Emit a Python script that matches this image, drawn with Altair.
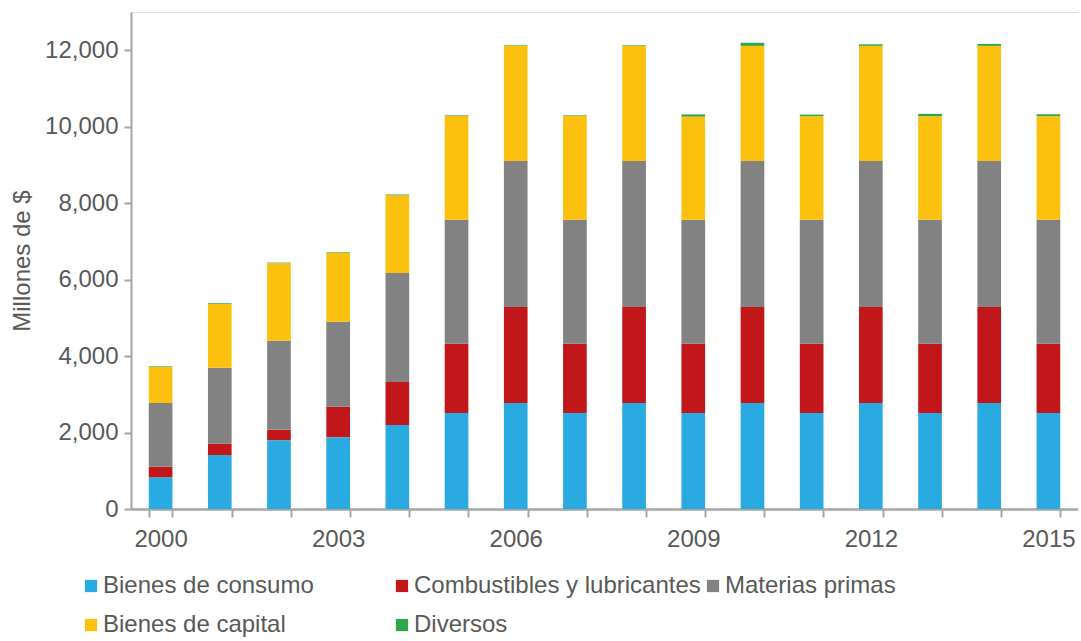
import altair as alt
import pandas as pd

years = [str(y) for y in range(2000, 2016)]
series = ["Bienes de consumo", "Combustibles y lubricantes", "Materias primas",
          "Bienes de capital", "Diversos"]
colors = ["#29ABE2", "#C1171B", "#828282", "#FCC00F", "#2DA74A"]

consumo = [830, 1410, 1800, 1880, 2195, 2510, 2770, 2510, 2770, 2510, 2770, 2510, 2770, 2510, 2770, 2510]
combustibles = [275, 295, 270, 795, 1130, 1810, 2515, 1810, 2515, 1810, 2515, 1810, 2515, 1810, 2515, 1810]
materias = [1665, 1990, 2330, 2220, 2845, 3245, 3820, 3245, 3820, 3245, 3820, 3245, 3820, 3245, 3820, 3245]
capital = [950, 1670, 2030, 1805, 2040, 2720, 3020, 2720, 3020, 2700, 3010, 2710, 3010, 2710, 3010, 2710]
diversos = [15, 15, 15, 15, 15, 15, 15, 15, 15, 55, 80, 40, 40, 60, 50, 50]

rows = []
for i, y in enumerate(years):
    for k, (name, vals) in enumerate(zip(series, [consumo, combustibles, materias, capital, diversos])):
        rows.append({"Año": y, "Serie": name, "Valor": vals[i], "orden": k})
df = pd.DataFrame(rows)

FS = 24

chart = alt.Chart(df).mark_bar().encode(
    x=alt.X("Año:N", sort=years,
            scale=alt.Scale(paddingInner=0.6, paddingOuter=0.3),
            axis=alt.Axis(title=None, labelAngle=0, tickBand="extent",
                          labelExpr="(toNumber(datum.value) - 2000) % 3 == 0 ? datum.value : ''",
                          labelFontSize=FS, labelColor="#595959", labelPadding=10,
                          domainColor="#A6A6A6", domainWidth=2.5, tickColor="#A6A6A6",
                          tickWidth=2, tickSize=8)),
    y=alt.Y("Valor:Q", stack="zero",
            scale=alt.Scale(domain=[0, 13000], nice=False),
            axis=alt.Axis(title="Millones de $", values=[0, 2000, 4000, 6000, 8000, 10000, 12000],
                          format=",.0f", grid=False, labelFontSize=FS, labelColor="#595959",
                          titleFontSize=FS, titleColor="#595959", titleFontWeight="normal",
                          titlePadding=10, labelPadding=6,
                          domainColor="#A6A6A6", domainWidth=2, tickColor="#A6A6A6",
                          tickWidth=2, tickSize=7)),
    color=alt.Color("Serie:N", scale=alt.Scale(domain=series, range=colors),
                    legend=alt.Legend(title=None, orient="none", legendX=-52, legendY=562,
                                      direction="horizontal",
                                      columns=3, gridAlign="all", symbolType="square",
                                      symbolSize=150, symbolStrokeWidth=0, symbolOpacity=1,
                                      labelFontSize=FS, labelColor="#595959", labelOffset=0,
                                      columnPadding=0, rowPadding=15,
                                      labelLimit=400)),
    order=alt.Order("orden:Q", sort="ascending"),
).properties(width=947, height=497).configure_view(stroke=None).configure(
    font="Liberation Sans", padding={"left": 10, "top": 12, "right": 0, "bottom": 0}
)

chart.save("out.html", embed_options={"renderer": "svg", "actions": False})
